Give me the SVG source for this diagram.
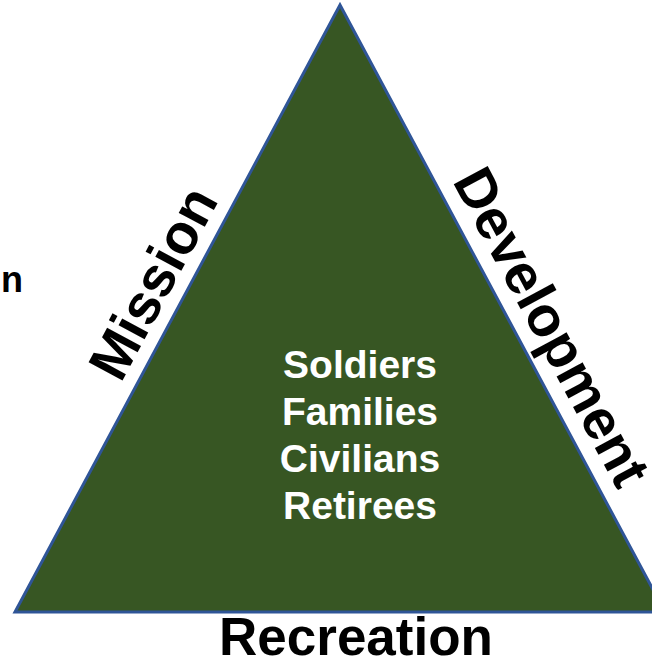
<svg xmlns="http://www.w3.org/2000/svg" width="652" height="665" viewBox="0 0 652 665">
<style>
.lbl{font-family:"Liberation Sans",Arial,sans-serif;font-weight:bold;fill:#000;}
.big{font-size:56px;text-anchor:middle;}
.inner{font-family:"Liberation Sans",Arial,sans-serif;font-weight:bold;fill:#fff;font-size:39px;text-anchor:middle;}
</style>
<rect width="652" height="665" fill="#fff"/>
<g id="triangle">
<polygon points="340,5 15,612 665,612" fill="#375623" stroke="#2F5597" stroke-width="3"/>
</g>
<g id="center-text">
<text class="inner" x="360" y="378">Soldiers</text>
<text class="inner" x="360" y="425">Families</text>
<text class="inner" x="360" y="472">Civilians</text>
<text class="inner" x="360" y="519">Retirees</text>
</g>
<g id="mission">
<text class="lbl big" transform="translate(170,292) rotate(-61.8)">Mission</text>
</g>
<g id="development">
<text class="lbl big" transform="translate(535,336) rotate(61.8)">Development</text>
</g>
<g id="recreation">
<text class="lbl" x="356" y="655" font-size="53" text-anchor="middle">Recreation</text>
</g>
<g id="partial">
<text class="lbl" x="1" y="292" font-size="36">n</text>
</g>
<g id="connectors"></g>
</svg>
